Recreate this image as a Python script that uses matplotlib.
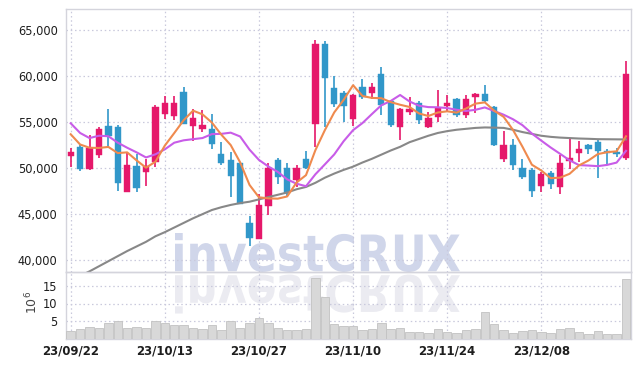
import matplotlib
matplotlib.use("Agg")
import matplotlib.pyplot as plt
from matplotlib.textpath import TextPath
from matplotlib.patches import PathPatch
from matplotlib.font_manager import FontProperties, fontManager
from matplotlib.transforms import Affine2D

# ---------------- data ----------------
dates = ["23/09/22", "23/09/25", "23/09/26", "23/09/27", "23/10/04", "23/10/05", "23/10/06",
         "23/10/10", "23/10/11", "23/10/12", "23/10/13", "23/10/16", "23/10/17", "23/10/18",
         "23/10/19", "23/10/20", "23/10/23", "23/10/24", "23/10/25", "23/10/26", "23/10/27",
         "23/10/30", "23/10/31", "23/11/01", "23/11/02", "23/11/03", "23/11/06", "23/11/07",
         "23/11/08", "23/11/09", "23/11/10", "23/11/13", "23/11/14", "23/11/15", "23/11/16",
         "23/11/17", "23/11/20", "23/11/21", "23/11/22", "23/11/23", "23/11/24", "23/11/27",
         "23/11/28", "23/11/29", "23/11/30", "23/12/01", "23/12/04", "23/12/05", "23/12/06",
         "23/12/07", "23/12/08", "23/12/11", "23/12/12", "23/12/13", "23/12/14", "23/12/15",
         "23/12/18", "23/12/19", "23/12/20", "23/12/21"]

opens = [51300, 52300, 49850, 51400, 54530, 54450, 47400, 50200, 49550, 50650,
         55900, 55650, 58250, 54550, 54250, 54200, 51500, 50850, 50550, 44000,
         42350, 45850, 50850, 49950, 48650, 50950, 54800, 63500, 58700, 58100,
         55350, 58750, 58150, 60150, 57250, 54450, 56100, 57100, 54450, 55550,
         56750, 57450, 55700, 57700, 58000, 56650, 51000, 52450, 50000, 49750,
         48100, 49500, 47950, 50800, 51600, 52450, 52800, 51900, 51750, 51100]
highs = [52150, 52450, 53550, 54450, 56450, 54650, 51600, 51500, 50950, 56800,
         57800, 57800, 58750, 56350, 56330, 55900, 52800, 51750, 50550, 44850,
         47200, 50500, 51100, 50550, 50300, 51850, 63900, 63750, 60000, 58350,
         58000, 59600, 59250, 60900, 57350, 56500, 57750, 57250, 56050, 58450,
         57900, 57550, 57950, 58150, 59000, 56700, 54000, 53100, 51000, 50050,
         49550, 49650, 51400, 53100, 52900, 52650, 53000, 52100, 52200, 61550]
lows = [50100, 49700, 49800, 51100, 52150, 47550, 47350, 47400, 48050, 50100,
        55300, 55200, 54750, 52900, 53950, 52050, 50300, 46850, 46050, 41600,
        42300, 44950, 48300, 46850, 47950, 49850, 52300, 54450, 56600, 54950,
        54550, 57500, 57450, 55700, 54450, 53000, 55800, 54800, 54300, 55000,
        56150, 55550, 55450, 55950, 57150, 52400, 50650, 49800, 48850, 46900,
        47450, 47700, 47200, 49900, 50700, 51550, 48900, 50450, 51200, 50850]
closes = [51700, 49900, 52200, 54200, 53450, 48350, 50300, 47850, 50250, 56650,
          57100, 57100, 54800, 55450, 54650, 52650, 50550, 49150, 46100, 42400,
          45950, 49950, 49000, 47300, 49950, 49950, 63500, 59800, 56950, 56750,
          57900, 57650, 58750, 56800, 54650, 56450, 56450, 55250, 55400, 56550,
          57100, 55750, 57450, 58050, 57250, 52550, 52450, 50300, 49000, 47500,
          49400, 48300, 50600, 51050, 52050, 52050, 51800, 51650, 51500, 60200]

ma5 = [53660, 52550, 52200, 52175, 52290, 51620, 51700, 50830, 50040, 50680,
       52430, 53790, 55180, 56220, 55820, 54930, 53620, 52490, 50620, 48170,
       46830, 46710, 46680, 46920, 48430, 49230, 51940, 54100, 56030, 57390,
       58980, 57810, 57600, 57570, 57150, 56860, 56620, 55920, 55640, 56020,
       56150, 56010, 56450, 56980, 57120, 56210, 55550, 54120, 52310, 50360,
       49730, 48900, 48960, 49370, 50280, 50810, 51510, 51720, 51810, 53440]
ma10 = [54850, 53800, 53250, 53500, 53450, 52750, 52200, 51700, 51150, 51485,
        52025, 52745, 53005, 53130, 53250, 53680, 53705, 53835, 53420, 51995,
        50880, 50165, 49585, 48770, 48300, 48030, 49325, 50390, 51475, 52910,
        54105, 54875, 55850, 56800, 57270, 57920, 57215, 56760, 56605, 56585,
        56505, 56315, 56185, 56310, 56570, 56180, 55780, 55285, 54645, 53740,
        52970, 52225, 51540, 50840, 50320, 50270, 50205, 50340, 50590, 51860]
ma60 = [37750, 38300, 38800, 39350, 39900, 40450, 41000, 41500, 42000, 42600,
        43050, 43550, 44050, 44550, 45000, 45450, 45750, 46000, 46200, 46350,
        46600, 46850, 47100, 47350, 47700, 47950, 48400, 48950, 49400, 49800,
        50150, 50600, 51000, 51450, 51900, 52300, 52800, 53150, 53500, 53800,
        54000, 54150, 54250, 54350, 54400, 54380, 54350, 54150, 53900, 53700,
        53500, 53380, 53300, 53250, 53200, 53170, 53130, 53120, 53110, 53100]

volumes = [2.1, 2.6, 3.2, 2.9, 4.3, 5.1, 2.9, 3.2, 2.9, 5.1,
           4.3, 3.9, 4.0, 2.9, 2.6, 3.8, 2.3, 5.0, 2.9, 4.3,
           5.8, 4.3, 2.9, 2.3, 2.3, 2.6, 17.2, 11.8, 4.1, 3.6,
           3.6, 2.4, 2.6, 4.3, 2.6, 2.9, 1.9, 1.9, 1.7, 2.6,
           1.9, 1.7, 2.4, 2.6, 7.5, 4.1, 2.4, 1.7, 2.1, 2.4,
           1.9, 1.7, 2.6, 2.9, 1.9, 1.3, 2.1, 1.3, 1.3, 16.9]

price_ticks = [40000, 45000, 50000, 55000, 60000, 65000]
vol_ticks = [5, 10, 15]
date_tick_idx = [0, 10, 20, 30, 40, 50]

# ---------------- style ----------------
UP = "#e5186a"
DOWN = "#3197c9"
GRID = "#c9c9dc"
SPINE = "#d4d4dc"
TXT = "#1e1e1e"

names = {f.name for f in fontManager.ttflist}
if "Liberation Sans Narrow" in names:
    LBL = FontProperties(family="Liberation Sans Narrow", size=10.5)
    LBLB = FontProperties(family="Liberation Sans Narrow", weight="bold", size=11)
    WMF = FontProperties(family="Liberation Sans Narrow", weight="bold")
else:
    LBL = FontProperties(family="DejaVu Sans", stretch="condensed", size=9.2)
    LBLB = FontProperties(family="DejaVu Sans", stretch="condensed", weight="bold", size=9.4)
    WMF = FontProperties(family="DejaVu Sans", stretch="condensed", weight="bold")

W, H = 639, 366
fig = plt.figure(figsize=(W / 100, H / 100), dpi=100)
fig.patch.set_facecolor("white")

def fx(px):
    return px / W

def fy(py):
    return 1 - py / H

L, R = 66, 630.7
ax = fig.add_axes([fx(L), fy(272), fx(R - L), (272 - 9) / H])
axv = fig.add_axes([fx(L), fy(338.5), fx(R - L), (338.5 - 272) / H], sharex=ax)
for a in (ax, axv):
    a.set_facecolor("none")
    for s in a.spines.values():
        s.set_color(SPINE)
        s.set_linewidth(1.0)
    a.tick_params(length=0, colors=TXT)
    a.set_axisbelow(True)

x = list(range(len(dates)))

# watermark (behind axes)
tp = TextPath((0, 0), "investCRUX", size=1, prop=WMF)
ext = tp.get_extents()
x0, x1, y0, y1 = 175, 460, 233, 272
sx = (x1 - x0) / ext.width
sy = (y1 - y0) / ext.height
tr = Affine2D().translate(-ext.x0, -ext.y0).scale(sx / W, sy / H).translate(fx(x0), fy(y1))
wm = PathPatch(tr.transform_path(tp), facecolor="#d0d6ea", edgecolor="none",
               transform=fig.transFigure, zorder=-5)
fig.add_artist(wm)
tr2 = Affine2D().translate(-ext.x0, -ext.y0).scale(sx / W, -sy / H).translate(fx(x0), fy(274.5))
wm2 = PathPatch(tr2.transform_path(tp), facecolor="#ebebf1", edgecolor="none",
                transform=fig.transFigure, zorder=-5)
fig.add_artist(wm2)

# grid + ticks
ax.set_yticks(price_ticks)
ax.set_yticklabels([f"{v:,}" for v in price_ticks], fontproperties=LBL, color=TXT)
ax.grid(True, color=GRID, linestyle=(0, (1.2, 2.2)), linewidth=0.9)
axv.set_yticks(vol_ticks)
axv.set_yticklabels([str(v) for v in vol_ticks], fontproperties=LBL, color=TXT)
axv.grid(True, color=GRID, linestyle=(0, (1.2, 2.2)), linewidth=0.9)
ax.tick_params(axis="y", pad=6)
axv.tick_params(axis="y", pad=6)

# candles
for i in x:
    o, h, l, c = opens[i], highs[i], lows[i], closes[i]
    col = UP if c >= o else DOWN
    ax.vlines(i, l, h, color=col, linewidth=1.2, zorder=3)
    bot = min(o, c)
    ht = max(abs(c - o), 120)
    ax.bar(i, ht, bottom=bot, width=0.68, color=col, edgecolor=col, linewidth=0.3, zorder=4)

ax.plot(x, ma60, color="#888888", linewidth=1.5, zorder=5)
ax.plot(x, ma10, color="#c85ce8", linewidth=1.5, zorder=5)
ax.plot(x, ma5, color="#ef8a4e", linewidth=1.5, zorder=6)

ax.set_ylim(38730, 67240)
ax.set_xlim(-0.5, 59.5)
ax.tick_params(axis="x", labelbottom=False)

# volume
axv.bar(x, volumes, width=0.9, color="#d8d8d8", edgecolor="#c2c2c2", linewidth=0.6, zorder=3)
axv.set_ylim(0, 19)
axv.set_xticks(date_tick_idx)
axv.set_xticklabels([dates[i] for i in date_tick_idx], fontproperties=LBLB, color=TXT)
axv.tick_params(axis="x", pad=4)
ax.set_xticks(date_tick_idx)

fig.text(fx(32), fy(302), r"$10^6$", rotation=90, ha="center", va="center",
         fontsize=9, color="#444444")

fig.savefig("out.png", dpi=100)
